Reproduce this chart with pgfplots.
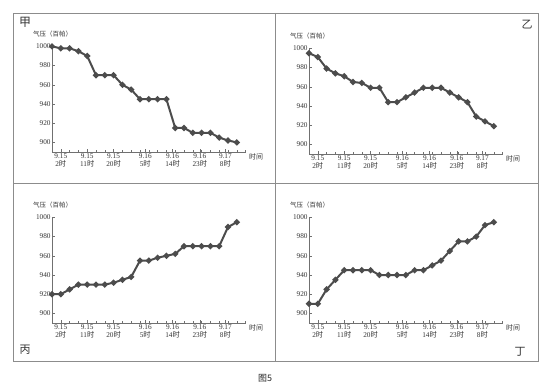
\documentclass[border=0pt]{standalone}
\usepackage{fontspec}
\setmainfont{Liberation Serif}
\newfontfamily\cjk{Noto Sans CJK SC}
\usepackage{pgfplots}
\pgfplotsset{compat=1.18}
\definecolor{ln}{gray}{0.30}
\definecolor{fr}{gray}{0.55}
\pgfplotsset{
  panel/.style={
    x=8.8bp, y=0.96bp, xmin=0, xmax=22, ymin=890, ymax=1000,
    anchor=south west, clip=false,
    axis lines*=left, axis line style={fr!80!black, line width=0.6bp, -},
    ytick={900,920,...,1000},
    tick align=inside, major tick length=3bp, minor tick length=2bp,
    tick style={fr!80!black, line width=0.5bp},
    xtick={1,4,7,10.6,13.7,16.8,19.7},
    minor xtick={0,1,...,22},
    xticklabels={{9.15\\2{\cjk 时}},{9.15\\11{\cjk 时}},{9.15\\20{\cjk 时}},{9.16\\5{\cjk 时}},{9.16\\14{\cjk 时}},{9.16\\23{\cjk 时}},{9.17\\8{\cjk 时}}},
    xticklabel style={align=center, font=\fontsize{7.3}{8.5}\selectfont, text=black!80, inner sep=1bp},
    yticklabel style={font=\fontsize{7.3}{8.5}\selectfont, text=black!80, inner sep=1.2bp},
    /pgf/number format/assume math mode=true,
    /pgf/number format/set thousands separator={},
  },
  ser/.style={color=ln, line width=2bp, mark=*, mark size=1.9bp, mark options={solid, fill=ln}},
}
\newcommand{\deco}{%
  \node[anchor=west, font=\fontsize{7}{8}\selectfont, text=black!80] at (axis cs:22,890) [yshift=-5bp] {\cjk 时间};
  \node[anchor=west, font=\fontsize{6.5}{7}\selectfont, text=black!80, inner sep=0pt] at (axis cs:0,1000) [xshift=-19bp, yshift=12bp] {\cjk 气压（百帕）};
}
\begin{document}
\begin{tikzpicture}[x=1bp,y=1bp]
\path (0,0) rectangle (554,388);
\draw[fr, line width=0.8bp] (13,375) rectangle (538,27);
\draw[fr, line width=0.8bp] (275,375) -- (275,27);
\draw[fr, line width=0.8bp] (13,205) -- (538,205);

% 甲
\begin{axis}[panel, at={(52bp,236bp)}]
\addplot[ser] coordinates {(0,1000)(1,998)(2,998)(3,995)(4,990)(5,970)(6,970)(7,970)(8,960)(9,955)(10,945)(11,945)(12,945)(13,945)(14,915)(15,915)(16,910)(17,910)(18,910)(19,905)(20,902)(21,900)};
\deco
\end{axis}

% 乙
\begin{axis}[panel, at={(309bp,234bp)}]
\addplot[ser] coordinates {(0,995)(1,991)(2,979)(3,974)(4,971)(5,965)(6,964)(7,959)(8,959)(9,944)(10,944)(11,949)(12,954)(13,959)(14,959)(15,959)(16,954)(17,949)(18,944)(19,929)(20,924)(21,919)};
\deco
\end{axis}

% 丙
\begin{axis}[panel, at={(52bp,65bp)}]
\addplot[ser] coordinates {(0,920)(1,920)(2,925)(3,930)(4,930)(5,930)(6,930)(7,932)(8,935)(9,938)(10,955)(11,955)(12,958)(13,960)(14,962)(15,970)(16,970)(17,970)(18,970)(19,970)(20,990)(21,995)};
\deco
\end{axis}

% 丁
\begin{axis}[panel, at={(309bp,65bp)}]
\addplot[ser] coordinates {(0,910)(1,910)(2,925)(3,935)(4,945)(5,945)(6,945)(7,945)(8,940)(9,940)(10,940)(11,940)(12,945)(13,945)(14,950)(15,955)(16,965)(17,975)(18,975)(19,980)(20,992)(21,995)};
\deco
\end{axis}

\node[font=\fontsize{12}{12}\selectfont, text=black!80] at (25,366) {\cjk 甲};
\node[font=\fontsize{11}{11}\selectfont, text=black!80] at (527,363) {\cjk 乙};
\node[font=\fontsize{11}{11}\selectfont, text=black!80] at (25,38) {\cjk 丙};
\node[font=\fontsize{11}{11}\selectfont, text=black!80] at (520,36) {\cjk 丁};
\node[font=\fontsize{9}{9}\selectfont, text=black!85] at (265,10) {\cjk 图5};
\end{tikzpicture}
\end{document}
